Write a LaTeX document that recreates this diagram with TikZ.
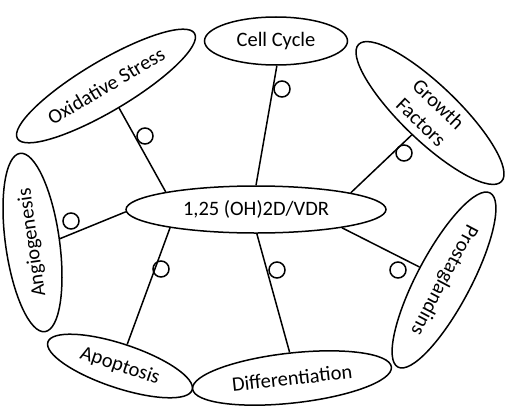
\documentclass[tikz,border=0pt]{standalone}
\usepackage{fontspec}
\setmainfont{Carlito}
\usetikzlibrary{shapes.geometric}
\begin{document}
\begin{tikzpicture}[x=1bp,y=1bp,
  oval/.style={ellipse, draw, line width=1.5bp, inner sep=0pt, align=center,
    font=\fontsize{20.5bp}{25bp}\selectfont},
  link/.style={line width=1.5bp},
  ring/.style={circle, draw, line width=1.5bp, minimum size=16bp, inner sep=0pt}]
\useasboundingbox (0,0) rectangle (509,413);
% centre
\node[oval, minimum width=260bp, minimum height=47bp] (C) at (256,203.5) {1,25 (OH)2D/VDR};
% outer ovals
\node[oval, minimum width=143bp, minimum height=48bp] (cc) at (276,372) {Cell Cycle};
\node[oval, minimum width=206bp, minimum height=50bp, rotate=30.7] (ox) at (106,327) {Oxidative Stress};
\node[oval, minimum width=198bp, minimum height=54bp, rotate=-43.8] (gf) at (430,300) {Growth\\Factors};
\node[oval, minimum width=180bp, minimum height=54bp, rotate=97.95] (an) at (32.5,170.5) {Angiogenesis};
\node[oval, minimum width=152bp, minimum height=44bp, rotate=-18.4] (ap) at (120,47) {Apoptosis};
\node[oval, minimum width=200bp, minimum height=50bp, rotate=6.3] (df) at (292,35) {Differentiation};
\node[oval, minimum width=197bp, minimum height=54bp, rotate=-117.9] (pg) at (444,133) {Prostaglandins};
% connectors
\draw[link] (ox.270) -- (C.169.7);
\draw[link] (cc.272) -- (C.90);
\draw[link] (gf.274) -- (C.10.2);
\draw[link] (an.270) -- (C.181.1);
\draw[link] (ap.90) -- (C.192);
\draw[link] (df.89) -- (C.272.4);
\draw[link] (pg.270) -- (C.348.2);
% small circles
\node[ring] (c1) at (145,277) {};
\node[ring] (c2) at (282,324) {};
\node[ring] (c3) at (404,260) {};
\node[ring] (c4) at (71,192) {};
\node[ring] (c5) at (161,144) {};
\node[ring] (c6) at (277,143) {};
\node[ring] (c7) at (398,143) {};
\end{tikzpicture}
\end{document}
